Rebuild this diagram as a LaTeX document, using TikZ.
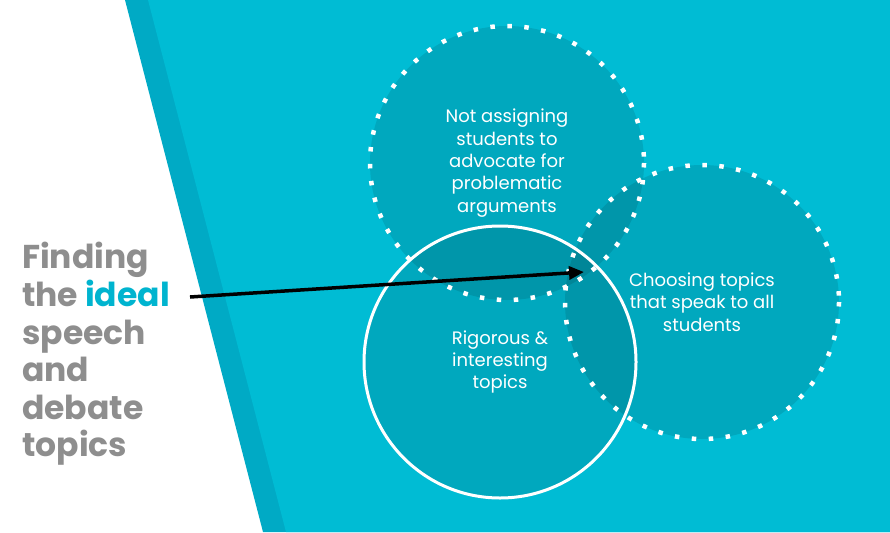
\documentclass[tikz,border=0pt]{standalone}
\usepackage{fontspec}
\setmainfont{Poppins}
\usetikzlibrary{arrows.meta, positioning}
\definecolor{bgcyan}{RGB}{0,188,212}
\definecolor{edgecyan}{RGB}{0,170,197}
\definecolor{titlegray}{RGB}{142,142,142}
\definecolor{idealcyan}{RGB}{0,180,207}

\begin{document}
\begin{tikzpicture}[
    x=1pt, y=-1pt,
    every node/.style={font=\fontsize{18}{22.3}\selectfont, text=white, align=center},
    topic/.style={circle, minimum size=274pt, inner sep=0pt,
                  fill=black, fill opacity=0.10, text opacity=1},
    dotring/.style={draw=white, line width=4.5pt, dash pattern=on 4.5pt off 12.5pt},
    solidring/.style={draw=white, line width=3pt},
    title/.style={font=\fontsize{33}{37.6}\selectfont\bfseries,
                  text=titlegray, align=left, inner sep=0pt},
    arr/.style={-{Triangle[length=15pt,width=13pt]}, line width=3.5pt}
]
\useasboundingbox (0,0) rectangle (890,532);
\fill[white] (0,0) rectangle (890,532);
\fill[edgecyan] (125,0) -- (890,0) -- (890,532) -- (263,532) -- cycle;
\fill[bgcyan] (148,0) -- (890,0) -- (890,532) -- (286,532) -- cycle;

% the three topic circles
\node[topic] (assign) at (507,163)
    {Not assigning\\students to\\advocate for\\problematic\\arguments};
\node[topic] (speak) at (702,302)
    {Choosing topics\\that speak to all\\students};
\node[topic] (rigor) at (500,362)
    {Rigorous \&\\interesting\\topics};

\draw[dotring] (assign.center) circle[radius=137];
\draw[dotring] (speak.center) circle[radius=137];
\draw[solidring] (rigor.center) circle[radius=136];

% heading and pointer
\node[title, anchor=west] (heading) at (22,354)
    {Finding\\the \textcolor{idealcyan}{ideal}\\speech\\and\\debate\\topics};
\coordinate (from) at (190,297);
\coordinate (to) at (584,272);
\draw[arr] (from) -- (to);
\end{tikzpicture}
\end{document}
